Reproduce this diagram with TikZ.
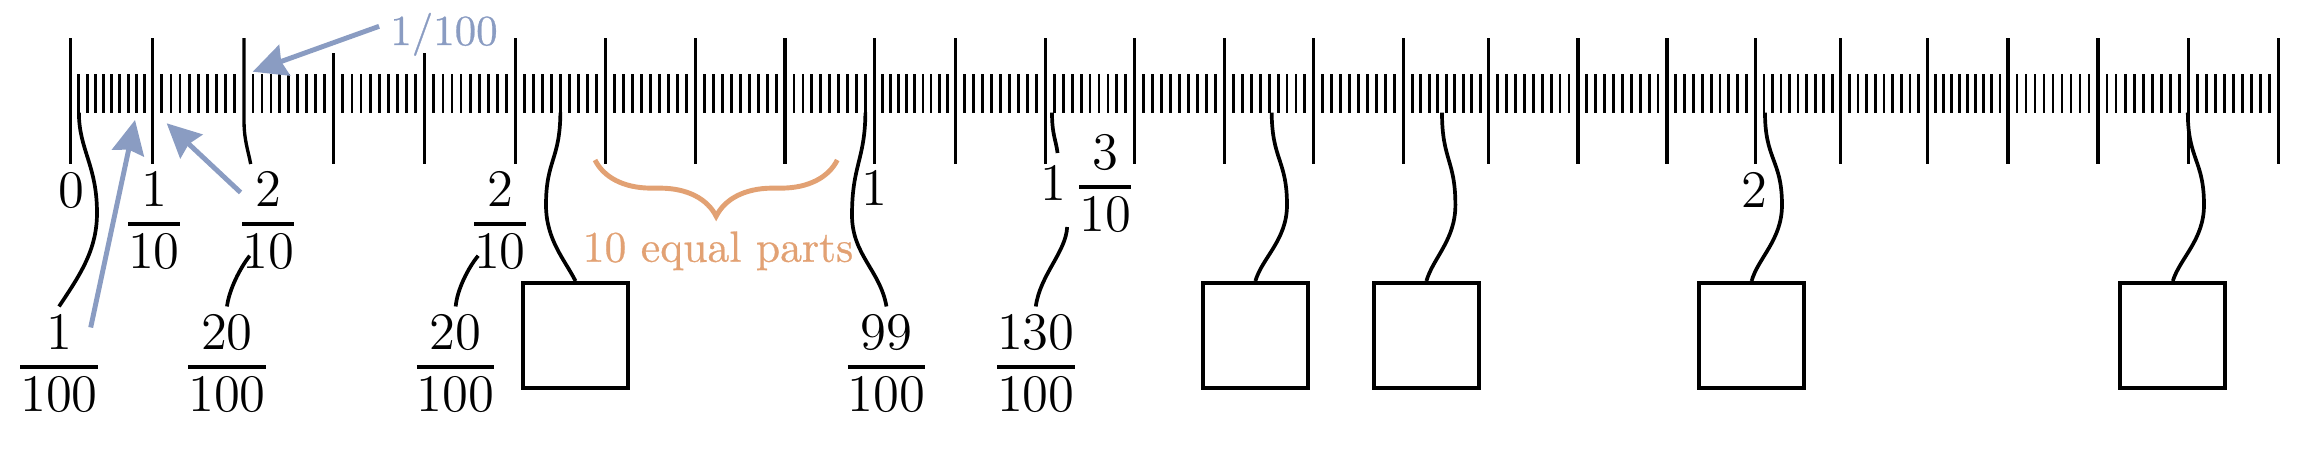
\RequirePackage{fix-cm}
\documentclass[tikz,border=0pt]{standalone}
\usepackage{amsmath}
\usepackage{fontspec}
\setmainfont{lmroman10}[Extension=.otf, UprightFont=*-regular, BoldFont=*-bold, ItalicFont=*-italic, UprightFeatures={FakeBold=0.6}]
\usetikzlibrary{arrows.meta,calc,decorations.pathreplacing}
\definecolor{hintblue}{HTML}{8A9CC2}
\definecolor{hintorange}{HTML}{E2A173}
\newcommand{\tenfrac}[2]{\genfrac{}{}{1.1pt}{1}{\displaystyle #1\rule[-3.2pt]{0pt}{3.2pt}}{\displaystyle\rule{0pt}{11.1pt}#2}}
\tikzset{
  tickline/.style={line width=0.95pt},
  minortick/.style={line width=0.8pt},
  wire/.style={line width=1.05pt},
  numlbl/.style={anchor=base, inner sep=2.5pt, font=\fontsize{15}{18}\selectfont},
  answerbox/.style={draw, line width=1.1pt, minimum size=1.05cm, inner sep=0pt},
  hinttext/.style={hintblue, anchor=base, inner sep=3pt, font=\fontsize{12.2}{14}\selectfont},
  parttext/.style={hintorange, anchor=base, inner sep=0pt, font=\fontsize{12.4}{15}\selectfont},
  hint/.style={hintblue, line width=1.4pt, -{Stealth[length=9.6pt,width=9.2pt,inset=1pt]}},
  bracepen/.style={hintorange, line width=1.4pt, decorate, decoration={brace, amplitude=16pt}}
}

\begin{document}
\begin{tikzpicture}[x=0.01cm, y=-0.01cm]
\useasboundingbox (0,0) rectangle (2323,448);

% hundredths
\foreach \x [remember=\x as \p (initially 70.7)] in {152.7,244,333.7,424.8,515.5,605.2,695.2,785.1,874.3,955.4,1045.4,1134.7,1224.6,1313.8,1403.8,1488.7,1577.9,1666.9,1755.4,1840.7,1927.3,2008,2097.9,2188.7,2278.7}
  \foreach \k in {1,...,9}
    \draw[minortick] ({\p+\k*(\x-\p)/10},74) -- ({\p+\k*(\x-\p)/10},112.7);

% tenths
\foreach \x/\y in {70.7/38, 152.7/38, 333.7/53, 424.8/53, 515.5/38, 605.2/38, 695.2/38, 785.1/38, 874.3/38, 955.4/38, 1045.4/38, 1134.7/38, 1224.6/38, 1313.8/38, 1403.8/38, 1488.7/38, 1577.9/38, 1666.9/38, 1755.4/38, 1840.7/38, 1927.3/38, 2008/38, 2097.9/38, 2188.7/38, 2278.7/38}
  \draw[tickline] (\x,\y) -- (\x,164);
\draw[tickline] (244,38) -- (244,120) .. controls (244,140) and (248,150) .. (250.7,164);

% points on the ruler
\coordinate (h1) at (78.9,112.7);
\coordinate (h99) at (865.4,112.7);
\coordinate (h130) at (1052,112.7);
\coordinate (hb1) at (560.4,112.7);
\coordinate (hb2) at (1271.7,112.7);
\coordinate (hb3) at (1442,112.7);
\coordinate (hb4) at (1765,112.7);
\coordinate (hb5) at (2187.8,112.7);
\coordinate (u1) at (252.7,71.7);
\coordinate (u2) at (135,120);
\coordinate (u3) at (166.7,123.3);

% labels
\node[numlbl] (n0) at (71,207) {$0$};
\node[numlbl] (f110) at (154,237.2) {$\tenfrac{1}{10}$};
\node[numlbl] (f210a) at (268.3,237.2) {$\tenfrac{2}{10}$};
\node[numlbl] (f210b) at (500,237.2) {$\tenfrac{2}{10}$};
\node[numlbl] (n1) at (874,205) {$1$};
\node[numlbl] (m1310) at (1088,200) {$1\,\tenfrac{3}{10}$};
\node[numlbl] (n2) at (1754,207) {$2$};
\node[numlbl] (f1100) at (59,380.2) {$\tenfrac{1}{100}$};
\node[numlbl] (f20a) at (227,380.2) {$\tenfrac{20}{100}$};
\node[numlbl] (f20b) at (455.7,380.2) {$\tenfrac{20}{100}$};
\node[numlbl] (f99) at (886.5,380.2) {$\tenfrac{99}{100}$};
\node[numlbl] (f130) at (1035.8,380.2) {$\tenfrac{130}{100}$};

% boxes
\node[answerbox] (b1) at (575.5,335.5) {};
\node[answerbox] (b2) at (1255.4,335.5) {};
\node[answerbox] (b3) at (1426.4,335.5) {};
\node[answerbox] (b4) at (1751.6,335.5) {};
\node[answerbox] (b5) at (2172.8,335.5) {};

% leaders
\draw[wire] (h1) .. controls (79,150) and (97,165) .. (97,213) .. controls (97,250) and (80,275) .. (f1100.north);
\draw[wire] (f20a.north) .. controls (229,290) and (240,268) .. ($(f210a.south west)+(21,-22.6)$);
\draw[wire] (f20b.north) .. controls (457,290) and (468,268) .. ($(f210b.south west)+(17.7,-22.6)$);
\draw[wire] (h99) .. controls (865,160) and (852,165) .. (852,215) .. controls (852,255) and (880,270) .. (f99.north);
\draw[wire] (h130) .. controls (1052,135) and (1056,140) .. ($(m1310.base west)+(26.4,-47)$);
\draw[wire] ($(m1310.base west)+(36,27)$) .. controls (1066,252) and (1040,275) .. (f130.north);
\draw[wire] (hb1) .. controls (560,160) and (546,160) .. (546,205) .. controls (546,240) and (565,260) .. (b1.north);
\draw[wire] (hb2) .. controls (1272,160) and (1287,160) .. (1287,205) .. controls (1287,240) and (1262,258) .. (b2.north);
\draw[wire] (hb3) .. controls (1442,160) and (1455.4,160) .. (1455.4,205) .. controls (1455.4,240) and (1433,258) .. (b3.north);
\draw[wire] (hb4) .. controls (1765,160) and (1782,160) .. (1782,205) .. controls (1782,240) and (1758,258) .. (b4.north);
\draw[wire] (hb5) .. controls (2188,160) and (2204,160) .. (2204,205) .. controls (2204,240) and (2180,258) .. (b5.north);

% hints
\node[hinttext] (h100) at (444,45) {1/100};
\draw[hint] (h100.173) -- (u1);
\draw[hint] ($(f1100.north)+(31.7,21)$) -- (u2);
\draw[hint] ($(f210a.north west)+(11.8,29)$) -- (u3);
\draw[bracepen] (837.3,160) -- (595,160);
\node[parttext] (parts) at (718,261.7) {10 equal parts};
\end{tikzpicture}
\end{document}
